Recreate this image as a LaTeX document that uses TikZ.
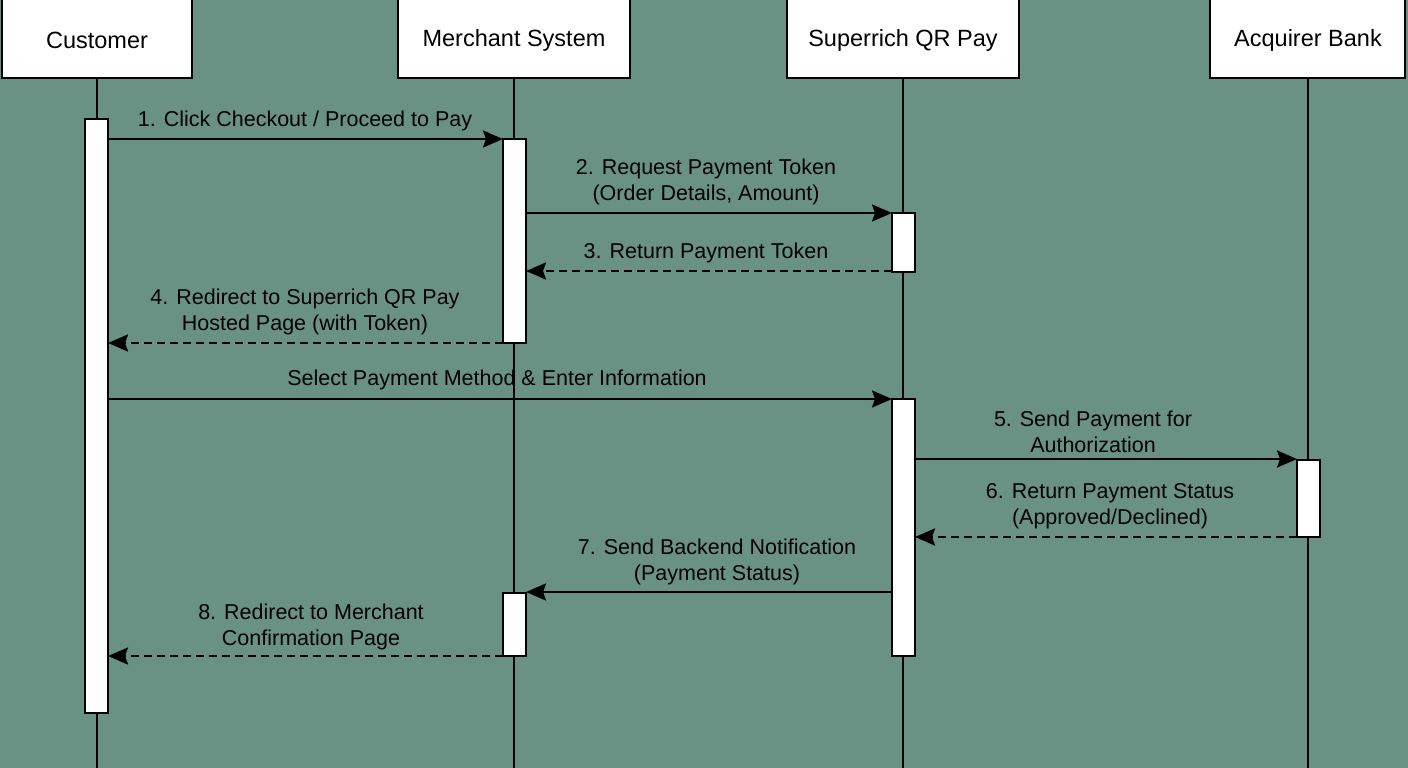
\documentclass[tikz,border=0pt]{standalone}
\usepackage{fontspec}
\setmainfont{Liberation Sans}
\usetikzlibrary{arrows.meta}
\definecolor{bg}{RGB}{106,146,132}
\begin{document}
\begin{tikzpicture}[x=1pt,y=-1pt,
  hdr/.style={draw=black,line width=2pt,fill=white},
  act/.style={draw=black,line width=2pt,fill=white},
  life/.style={line width=2pt},
  msg/.style={line width=2.5pt,-{Stealth[length=20pt,width=17pt,inset=3pt]}},
  ret/.style={msg,dash pattern=on 8pt off 5pt},
  hfont/.style={font=\fontsize{23.5}{26}\selectfont},
  lbl/.style={font=\fontsize{21.5}{26}\selectfont,align=center,anchor=south}]
\useasboundingbox[fill=bg] (0,0) rectangle (1408,768);
% lifelines
\foreach \x in {97,514,903,1308} \draw[life] (\x,70) -- (\x,768);
% headers
\draw[hdr] (2,-5) rectangle (192,78);
\draw[hdr] (398,-5) rectangle (630,78);
\draw[hdr] (787,-5) rectangle (1019,78);
\draw[hdr] (1210,-5) rectangle (1405,78);
\node[hfont] (hc) at (97,40) {Customer};
\node[hfont] (hm) at (514,40) {Merchant System};
\node[hfont] (hs) at (903,40) {Superrich QR Pay};
\node[hfont] (ha) at (1308,40) {Acquirer Bank};
% activations
\draw[act] (85,119) rectangle (108,713);
\draw[act] (503,139) rectangle (526,343);
\draw[act] (503,593) rectangle (526,656);
\draw[act] (892,213) rectangle (915,272);
\draw[act] (892,399) rectangle (915,656);
\draw[act] (1297,460) rectangle (1320,537);
% coordinates
\coordinate (c1) at (108,139); \coordinate (m1) at (503,139);
\coordinate (m2) at (526,213); \coordinate (s2) at (892,213);
\coordinate (s3) at (892,271); \coordinate (m3) at (526,271);
\coordinate (m4) at (503,343); \coordinate (c4) at (108,343);
\coordinate (c5) at (108,399); \coordinate (s5) at (892,399);
\coordinate (s6) at (915,459); \coordinate (a6) at (1297,459);
\coordinate (a7) at (1297,537); \coordinate (s7) at (915,537);
\coordinate (s8) at (892,592); \coordinate (m8) at (526,592);
\coordinate (m9) at (503,656); \coordinate (c9) at (108,656);
\draw[msg] (c1) -- (m1);
\draw[msg] (m2) -- (s2);
\draw[ret] (s3) -- (m3);
\draw[ret] (m4) -- (c4);
\draw[msg] (c5) -- (s5);
\draw[msg] (s6) -- (a6);
\draw[ret] (a7) -- (s7);
\draw[msg] (s8) -- (m8);
\draw[ret] (m9) -- (c9);
% labels
\node[lbl] (l1) at (305,134) {1. Click Checkout / Proceed to Pay};
\node[lbl] (l2) at (706,208) {2. Request Payment Token\\(Order Details, Amount)};
\node[lbl] (l3) at (706,266) {3. Return Payment Token};
\node[lbl] (l4) at (305,338) {4. Redirect to Superrich QR Pay\\Hosted Page (with Token)};
\node[lbl] (l5) at (497,393) {Select Payment Method \& Enter Information};
\node[lbl] (l6) at (1093,456) {5. Send Payment for\\Authorization};
\node[lbl] (l7) at (1110,532) {6. Return Payment Status\\(Approved/Declined)};
\node[lbl] (l8) at (717,588) {7. Send Backend Notification\\(Payment Status)};
\node[lbl] (l9) at (311,653) {8. Redirect to Merchant\\Confirmation Page};
\end{tikzpicture}
\end{document}
